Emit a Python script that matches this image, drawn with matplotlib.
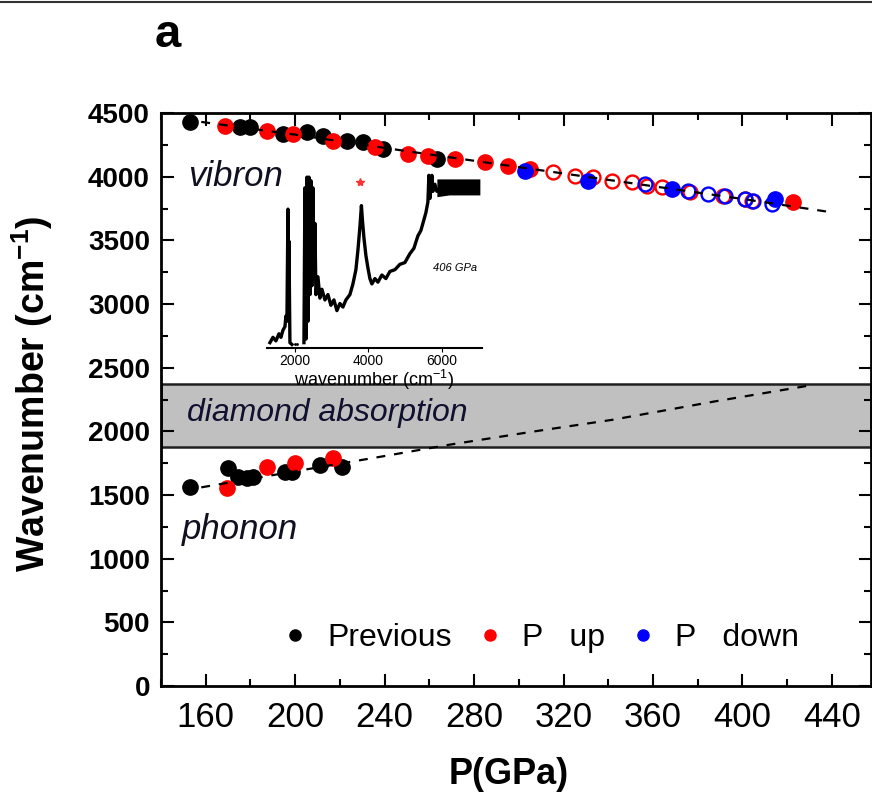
import numpy as np
import matplotlib
matplotlib.use("Agg")
import matplotlib.pyplot as plt
from matplotlib.ticker import MultipleLocator, FixedLocator

plt.rcParams['font.family'] = ['Liberation Sans', 'DejaVu Sans']
plt.rcParams['mathtext.fontset'] = 'custom'
plt.rcParams['mathtext.rm'] = 'Liberation Sans'
plt.rcParams['mathtext.bf'] = 'Liberation Sans:bold'

# ---------------- data ----------------
# vibron
prev_vib_P = [152.8, 175.2, 179.7, 194.4, 205.2, 212.3, 223.1, 230.2, 239.2, 263.3]
prev_vib_W = [4430, 4390, 4390, 4335, 4350, 4320, 4280, 4270, 4217, 4138]
up_vib_P = [168.5, 187.3, 198.9, 216.8, 235.6, 250.3, 259.3, 271.4, 284.8, 295.1, 304.9, 422.5]
up_vib_W = [4398, 4360, 4335, 4280, 4233, 4178, 4162, 4138, 4115, 4083, 4060, 3800]
down_vib_P = [302.7, 330.8, 368.4, 414.5]
down_vib_W = [4044, 3965, 3902, 3824]
up_open_P = [315.2, 325.0, 333.1, 341.6, 350.5, 357.2, 363.9, 376.5, 391.2, 401.1, 404.2]
up_open_W = [4036, 4005, 3997, 3965, 3957, 3926, 3918, 3879, 3847, 3824, 3808]
down_open_P = [356.3, 375.6, 384.5, 392.1, 401.1, 404.6, 413.1]
down_open_W = [3942, 3887, 3863, 3847, 3824, 3808, 3784]
# phonon
prev_ph_P = [152.8, 169.8, 174.3, 178.3, 181.0, 195.3, 198.5, 211.0, 220.8]
prev_ph_W = [1566, 1715, 1644, 1636, 1644, 1684, 1684, 1739, 1723]
up_ph_P = [169.4, 187.3, 199.8, 216.8]
up_ph_W = [1558, 1723, 1754, 1794]
# fitted guide lines
vib_fit_P = [158, 200, 250, 300, 350, 400, 440]
vib_fit_W = [4430, 4330, 4200, 4075, 3950, 3825, 3720]
ph_fit_P = [158, 238, 269, 306, 342, 387, 430]
ph_fit_W = [1560, 1800, 1895, 1997, 2091, 2233, 2360]
# diamond absorption band
band_lo, band_hi = 1880, 2370

# inset spectrum (406 GPa)
spec_w = [1320, 1402, 1483, 1565, 1619, 1674, 1728, 1755, 1782, 1810, 1823, 1837, 1864, 1918,
          np.nan,
          2245, 2272, 2299, 2326, 2354, 2381, 2408, 2435, 2462, 2490, 2517, 2544, 2571, 2626,
          2680, 2734, 2816, 2898, 2979, 3061, 3142, 3224, 3306, 3387, 3496, 3578, 3659, 3714,
          3768, 3809, 3836, 3877, 3931, 3986, 4040, 4094, 4176, 4258, 4366, 4475, 4584, 4720,
          4856, 4992, 5128, 5237, 5346, 5427, 5509, 5563, 5618, 5645, 5672, 5699, 5726, 5754,
          5808, 5862, 5944]
spec_I = [0.03, 0.06, 0.04, 0.08, 0.06, 0.10, 0.12, 0.18, 0.15, 0.78, 0.25, 0.60, 0.03, 0.02,
          np.nan,
          0.03, 0.90, 0.05, 0.96, 0.15, 0.96, 0.30, 0.94, 0.35, 0.90, 0.40, 0.70, 0.30, 0.40,
          0.28, 0.33, 0.27, 0.30, 0.24, 0.27, 0.21, 0.25, 0.23, 0.27, 0.30, 0.36, 0.44, 0.55,
          0.68, 0.80, 0.72, 0.62, 0.52, 0.45, 0.39, 0.36, 0.39, 0.37, 0.41, 0.39, 0.43, 0.44,
          0.47, 0.48, 0.53, 0.56, 0.63, 0.66, 0.72, 0.76, 0.82, 0.97, 0.84, 0.90, 0.97, 0.88,
          0.92, 0.88, 0.90]
plateau_w = [5862, 6200, 6600, 7032]
plateau_lo = [0.85, 0.86, 0.86, 0.86]
plateau_hi = [0.95, 0.95, 0.95, 0.95]
star_w, star_I = [3768], [0.93]

# ---------------- figure ----------------
fig = plt.figure(figsize=(8.72, 7.98), dpi=100)
ax = fig.add_axes([161/872, 1-686/798, 710/872, 573/798])

ax.axhspan(band_lo, band_hi, facecolor='#c0c0c0', edgecolor='#202020', lw=1.8, zorder=1)

ms = 11
ax.plot(prev_vib_P, prev_vib_W, 'o', color='black', ms=ms, zorder=3)
ax.plot(prev_ph_P, prev_ph_W, 'o', color='black', ms=ms, zorder=3)
ax.plot(up_vib_P, up_vib_W, 'o', color='#ff0000', ms=ms, zorder=4)
ax.plot(up_ph_P, up_ph_W, 'o', color='#ff0000', ms=ms, zorder=4)
ax.plot(up_open_P, up_open_W, 'o', mfc='none', mec='#ff0000', mew=1.7, ms=10, zorder=4)
ax.plot(down_open_P, down_open_W, 'o', mfc='none', mec='#0000ff', mew=1.7, ms=10, zorder=4)
ax.plot(down_vib_P, down_vib_W, 'o', color='#0000ff', ms=ms, zorder=4)

ax.plot(vib_fit_P, vib_fit_W, color='black', lw=1.6, ls=(0, (4, 4)), zorder=5)
ax.plot(ph_fit_P, ph_fit_W, color='black', lw=1.6, ls=(0, (4, 4)), zorder=5)

ax.set_xlim(140, 457.5)
ax.set_ylim(0, 4500)
ax.xaxis.set_major_locator(FixedLocator([160, 200, 240, 280, 320, 360, 400, 440]))
ax.xaxis.set_minor_locator(MultipleLocator(20))
ax.yaxis.set_major_locator(MultipleLocator(500))
ax.yaxis.set_minor_locator(MultipleLocator(250))
ax.tick_params(which='both', direction='in', top=True, right=True, width=1.5)
ax.tick_params(which='major', length=9)
ax.tick_params(which='minor', length=5)
ax.tick_params(axis='x', which='major', labelsize=25, pad=11)
ax.tick_params(axis='y', which='major', labelsize=20, pad=8)
for lab in ax.get_yticklabels():
    lab.set_fontweight('bold')
for sp in ax.spines.values():
    sp.set_linewidth(2)

ax.set_ylabel('Wavenumber (cm$^{\\mathbf{-1}}$)', fontsize=27, fontweight='bold')
ax.yaxis.set_label_coords(-0.150, 0.51)
ax.set_xlabel('P(GPa)', fontsize=26, fontweight='bold')
ax.xaxis.set_label_coords(0.49, -0.124)

ax.text(152, 4001, 'vibron', style='italic', fontsize=25, va='center', ha='left', color='#101020')
ax.text(149.3, 1226, 'phonon', style='italic', fontsize=25, va='center', ha='left', color='#101020')
ax.text(151.5, 2146, 'diamond absorption', style='italic', fontsize=23, va='center', ha='left',
        color='#101030', zorder=2)

h1, = ax.plot([], [], 'o', color='black', ms=8)
h2, = ax.plot([], [], 'o', color='#ff0000', ms=8)
h3, = ax.plot([], [], 'o', color='#0000ff', ms=8)
ax.legend([h1, h2, h3], ['Previous', 'P   up', 'P   down'], loc='center',
          bbox_to_anchor=(0.537, 0.084), ncol=3, frameon=False, fontsize=23,
          handlelength=0.6, handletextpad=0.7, columnspacing=0.9)

fig.text(168/872, 1-35/798, 'a', fontsize=34, fontweight='bold', ha='center', va='center')
fig.add_artist(plt.Line2D([0, 1], [1-2/798, 1-2/798], color='#333333', lw=1.5))

# ---------------- inset ----------------
ins = fig.add_axes([267/872, 1-348/798, 215/872, 178/798])
ins.patch.set_alpha(0)
ins.plot(spec_w, spec_I, color='black', lw=2.4)
ins.fill_between(plateau_w, plateau_lo, plateau_hi, color='black', lw=0)
ins.plot([1990, 2060], [0.02, 0.02], 'k.', ms=2)
ins.plot(star_w, star_I, '*', color='#ff3030', ms=6)
ins.text(5754, 0.45, '406 GPa', style='italic', fontsize=8, va='center', ha='left')
ins.set_xlim(1240, 7090)
ins.set_ylim(0, 1)
for s in ['left', 'right', 'top']:
    ins.spines[s].set_visible(False)
ins.spines['bottom'].set_linewidth(1.5)
ins.set_yticks([])
ins.set_xticks([2000, 4000, 6000])
ins.tick_params(axis='x', direction='out', length=3, labelsize=10, pad=1)
ins.set_xlabel('wavenumber (cm$^{-1}$)', fontsize=13, labelpad=0)

fig.savefig('out.png', dpi=100)
